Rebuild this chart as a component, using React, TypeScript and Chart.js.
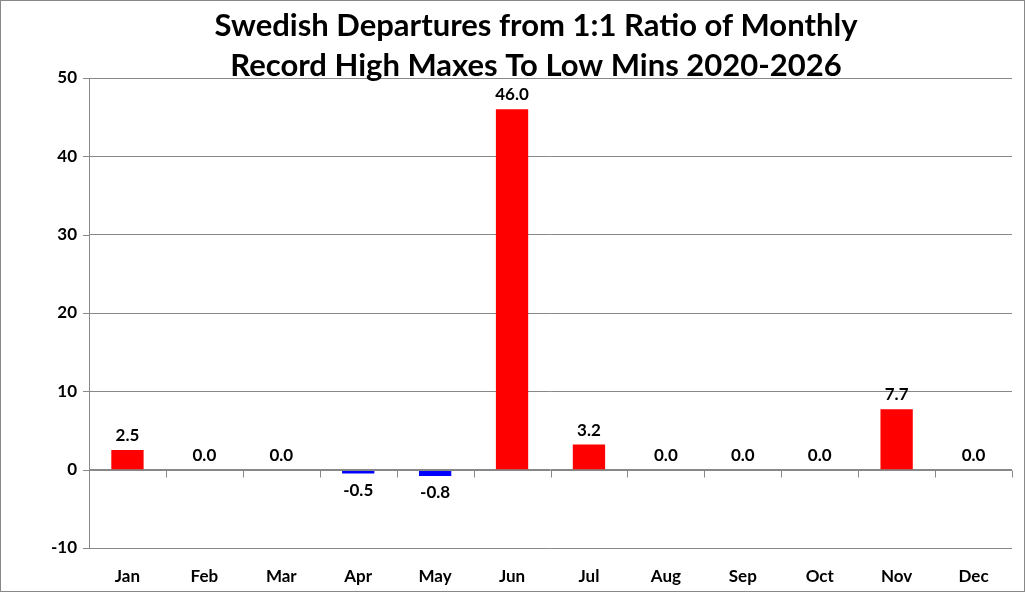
import React, { useEffect, useRef } from "react";
import { Chart, registerables } from "chart.js";
Chart.register(...registerables);

const months = ["Jan","Feb","Mar","Apr","May","Jun","Jul","Aug","Sep","Oct","Nov","Dec"];
const values = [2.5, 0.0, 0.0, -0.5, -0.8, 46.0, 3.2, 0.0, 0.0, 0.0, 7.7, 0.0];
const titleLines = ["Swedish Departures from 1:1 Ratio of Monthly", "Record High Maxes To Low Mins 2020-2026"];
const FONT = "Lato, 'Open Sans', sans-serif";

export default function App() {
  const ref = useRef<HTMLCanvasElement>(null);
  useEffect(() => {
    document.body.style.margin = "0";
    const extras = {
      id: "extras",
      afterDatasetsDraw(chart: any) {
        const ctx = chart.ctx;
        const y = chart.scales.y;
        const ca = chart.chartArea;
        ctx.save();
        ctx.fillStyle = "#000";
        ctx.font = `bold 31px ${FONT}`;
        ctx.textAlign = "center";
        ctx.textBaseline = "middle";
        titleLines.forEach((t, i) => ctx.fillText(t, 536, 26 + i * 40));
        ctx.strokeStyle = "#888";
        ctx.lineWidth = 1;
        const y0 = Math.round(y.getPixelForValue(0)) + 0.5;
        ctx.beginPath();
        ctx.moveTo(ca.left, y0); ctx.lineTo(ca.right, y0);
        ctx.moveTo(Math.round(ca.left) + 0.5, ca.top); ctx.lineTo(Math.round(ca.left) + 0.5, ca.bottom);
        const w = (ca.right - ca.left) / months.length;
        for (let i = 0; i <= months.length; i++) {
          const xx = Math.round(ca.left + i * w) + 0.5;
          ctx.moveTo(xx, y0); ctx.lineTo(xx, y0 + 7);
        }
        for (let v = -10; v <= 50; v += 10) {
          const yy = Math.round(y.getPixelForValue(v)) + 0.5;
          ctx.moveTo(ca.left - 6, yy); ctx.lineTo(ca.left, yy);
        }
        ctx.stroke();
        ctx.font = `bold 17px ${FONT}`;
        ctx.fillStyle = "#000";
        const meta = chart.getDatasetMeta(0);
        meta.data.forEach((bar: any, i: number) => {
          const v = values[i];
          if (v < 0) {
            ctx.textBaseline = "top";
            ctx.fillText(v.toFixed(1), bar.x, bar.y + 8);
          } else {
            ctx.textBaseline = "bottom";
            ctx.fillText(v.toFixed(1), bar.x, bar.y - 6);
          }
        });
        ctx.restore();
      },
    };
    const chart = new Chart(ref.current!, {
      type: "bar",
      data: {
        labels: months,
        datasets: [{
          data: values,
          backgroundColor: values.map(v => (v < 0 ? "#0000ff" : "#ff0000")),
          barPercentage: 0.42,
          categoryPercentage: 1,
        }],
      },
      options: {
        animation: false,
        responsive: false,
        layout: { padding: { top: 78, right: 13, left: 0, bottom: 0 } },
        plugins: { legend: { display: false }, tooltip: { enabled: false } },
        scales: {
          x: {
            grid: { display: false, drawTicks: false },
            border: { display: false },
            ticks: { color: "#000", font: { family: FONT, size: 17, weight: "bold" }, padding: 18 },
            afterFit: (s: any) => { s.height = 44; },
          },
          y: {
            min: -10, max: 50,
            grid: { color: "#888", drawTicks: false },
            border: { display: false },
            ticks: { stepSize: 10, color: "#000", font: { family: FONT, size: 17, weight: "bold" }, padding: 12 },
            afterFit: (s: any) => { s.width = 89; },
          },
        },
      },
      plugins: [extras],
    });
    return () => chart.destroy();
  }, []);
  return (
    <div style={{ width: 1025, height: 592, position: "relative", background: "#fff" }}>
      <canvas ref={ref} width={1025} height={592} style={{ display: "block" }} />
      <div style={{ position: "absolute", inset: 0, border: "1px solid #888", boxSizing: "border-box", pointerEvents: "none" }} />
    </div>
  );
}
